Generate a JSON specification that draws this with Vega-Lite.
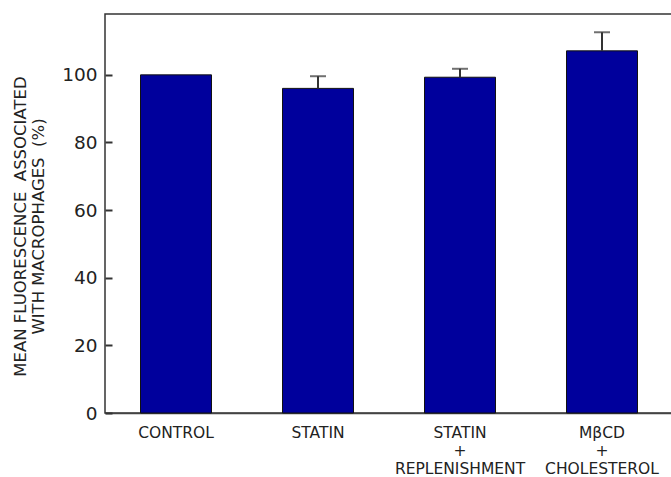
{
  "$schema": "https://vega.github.io/schema/vega-lite/v6.json",
  "autosize": {"type": "none"},
  "padding": {"left": 105, "top": 14, "right": 0, "bottom": 64},
  "width": 568,
  "height": 399,
  "background": "white",
  "config": {
    "view": {"stroke": "#333333", "strokeWidth": 1.5},
    "font": "DejaVu Sans"
  },
  "data": {
    "values": [
      {"group": "CONTROL", "mean": 100, "upper": null},
      {"group": "STATIN", "mean": 96, "upper": 99.6},
      {"group": "STATIN|+|REPLENISHMENT", "mean": 99.3, "upper": 101.8},
      {"group": "MβCD|+|CHOLESTEROL", "mean": 107.1, "upper": 112.6}
    ]
  },
  "encoding": {
    "x": {
      "field": "group",
      "type": "nominal",
      "sort": null,
      "scale": {"paddingInner": 0.5, "paddingOuter": 0.25},
      "axis": {
        "title": null,
        "labelAngle": 0,
        "labelExpr": "split(datum.value, '|')",
        "labelFont": "DejaVu Sans",
        "labelFontSize": 15.5,
        "labelColor": "#222222",
        "labelLineHeight": 18,
        "labelPadding": 12,
        "ticks": false,
        "domainColor": "#444444",
        "domainWidth": 1.5
      }
    }
  },
  "layer": [
    {
      "mark": {"type": "bar", "color": "#00009c", "stroke": "#111111", "strokeWidth": 1},
      "encoding": {
        "y": {
          "field": "mean",
          "type": "quantitative",
          "scale": {"domain": [0, 118], "nice": false},
          "axis": {
            "zindex": 1,
            "offset": -7,
            "domain": false,
            "ticks": true,
            "title": ["MEAN FLUORESCENCE\u00a0 ASSOCIATED", "WITH MACROPHAGES\u00a0 (%)"],
            "titleFont": "DejaVu Sans",
            "titleFontSize": 16.5,
            "titleFontWeight": "normal",
            "titleColor": "#222222",
            "titleLineHeight": 18,
            "titlePadding": 15,
            "titleY": 212,
            "values": [0, 10, 20, 30, 40, 50, 60, 70, 80, 90, 100, 110],
            "labelOverlap": false,
            "labelColor": {"condition": {"test": "datum.value % 20 != 0", "value": "transparent"}, "value": "#222222"},
            "labelFont": "DejaVu Sans",
            "labelFontSize": 18.5,
            "labelPadding": 8,
            "tickSize": 7,
            "tickColor": "#333333",
            "tickWidth": 2,
            "grid": false
          }
        }
      }
    },
    {
      "transform": [{"filter": "isValid(datum.upper)"}],
      "mark": {"type": "rule", "color": "#333333", "strokeWidth": 2},
      "encoding": {
        "y": {"field": "mean", "type": "quantitative"},
        "y2": {"field": "upper"}
      }
    },
    {
      "transform": [{"filter": "isValid(datum.upper)"}],
      "mark": {"type": "tick", "color": "#333333", "thickness": 2, "size": 16},
      "encoding": {
        "y": {"field": "upper", "type": "quantitative"}
      }
    }
  ]
}
